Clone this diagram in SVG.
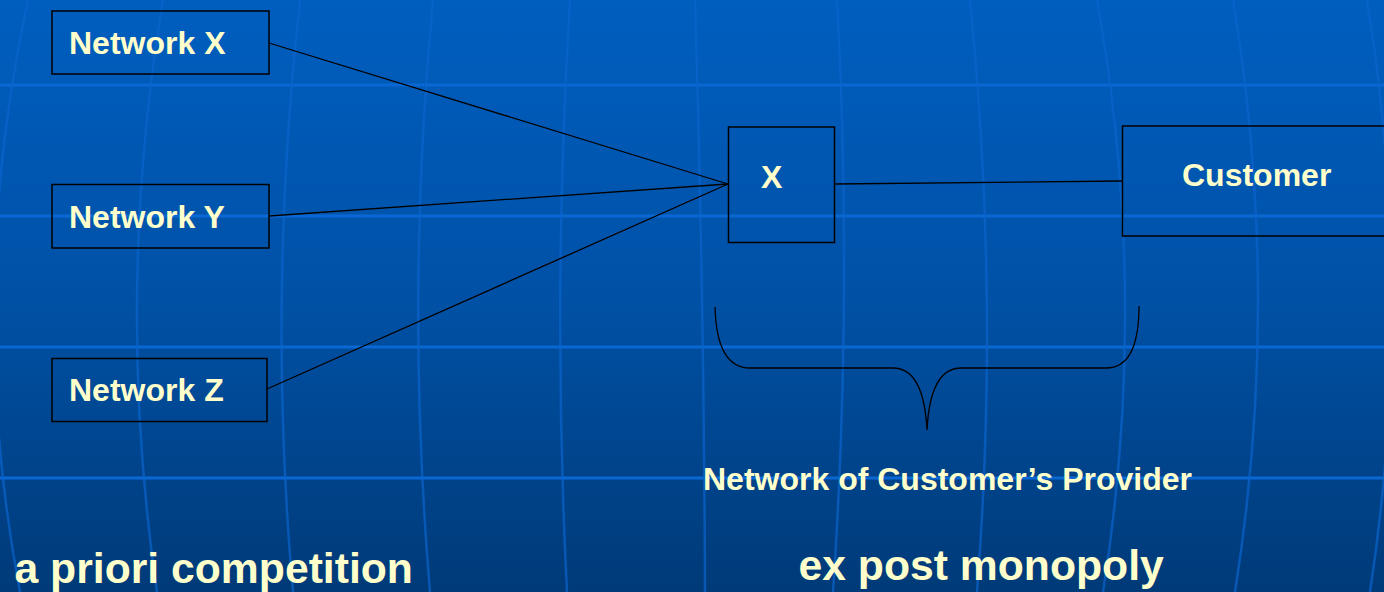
<svg xmlns="http://www.w3.org/2000/svg" width="1384" height="592" viewBox="0 0 1384 592">
<defs>
<linearGradient id="bg" x1="0" y1="0" x2="0" y2="1">
<stop offset="0" stop-color="#005EBF"/>
<stop offset="0.5" stop-color="#0051A6"/>
<stop offset="1" stop-color="#003A78"/>
</linearGradient>
<style>
.hl{stroke:#0A68D4;stroke-width:3;fill:none}
.vl{stroke:#0A64CC;stroke-width:2.5;fill:none;opacity:0.7}
.box{fill:none;stroke:#000;stroke-width:1.5}
.con{stroke:#000;stroke-width:1.3;fill:none}
.t{font-family:"Liberation Sans",Arial,sans-serif;font-weight:bold;fill:#FFFFCC;font-size:32px}
.big{font-size:42.7px}
</style>
</defs>
<rect width="1384" height="592" fill="url(#bg)"/>
<g id="grid">
<line class="hl" x1="0" y1="85" x2="1384" y2="85"/>
<line class="hl" x1="0" y1="216" x2="1384" y2="216"/>
<line class="hl" x1="0" y1="347" x2="1384" y2="347"/>
<line class="hl" x1="0" y1="478" x2="1384" y2="478"/>
<path class="vl" d="M28,0 Q-36,296 20,592"/>
<path class="vl" d="M163,0 Q114,296 157,592"/>
<path class="vl" d="M300,0 Q267,296 293,592"/>
<path class="vl" d="M433,0 Q405,296 430,592"/>
<path class="vl" d="M570,0 Q552,296 567,592"/>
<path class="vl" d="M695,0 Q704,296 705,592"/>
<path class="vl" d="M837,0 Q853,296 833,592"/>
<path class="vl" d="M970,0 Q1000,296 977,592"/>
<path class="vl" d="M1097,0 Q1150,296 1103,592"/>
<path class="vl" d="M1233,0 Q1282,296 1235,592"/>
<path class="vl" d="M1367,0 Q1415,296 1370,592"/>
</g>
<g id="connectors">
<line class="con" x1="269" y1="43" x2="728" y2="184"/>
<line class="con" x1="269" y1="216" x2="728" y2="184"/>
<line class="con" x1="267" y1="389" x2="728" y2="184"/>
<line class="con" x1="835" y1="184" x2="1122" y2="181"/>
<path class="con" d="M715,307 C716,345 727,368 750,368 L893,368 C915,368 925,392 927,430 C929,392 939,368 961,368 L1106,368 C1129,368 1139,345 1139,306"/>
</g>
<g id="networkX">
<rect class="box" x="52" y="11" width="217" height="63"/>
<text class="t" x="69" y="53.5">Network X</text>
</g>
<g id="networkY">
<rect class="box" x="52" y="184.5" width="217" height="63.5"/>
<text class="t" x="69" y="228">Network Y</text>
</g>
<g id="networkZ">
<rect class="box" x="52" y="358.5" width="215" height="63"/>
<text class="t" x="69" y="400.5">Network Z</text>
</g>
<g id="nodeX">
<rect class="box" x="728.5" y="127" width="106" height="115.5"/>
<text class="t" x="761" y="188">X</text>
</g>
<g id="customer">
<rect class="box" x="1122.5" y="126" width="270" height="110"/>
<text class="t" x="1182" y="185.5">Customer</text>
</g>
<g id="labels">
<text class="t" x="703" y="489.5">Network of Customer’s Provider</text>
<text class="t big" x="14.5" y="582.5">a priori competition</text>
<text class="t big" x="798.5" y="579.5">ex post monopoly</text>
</g>
</svg>
